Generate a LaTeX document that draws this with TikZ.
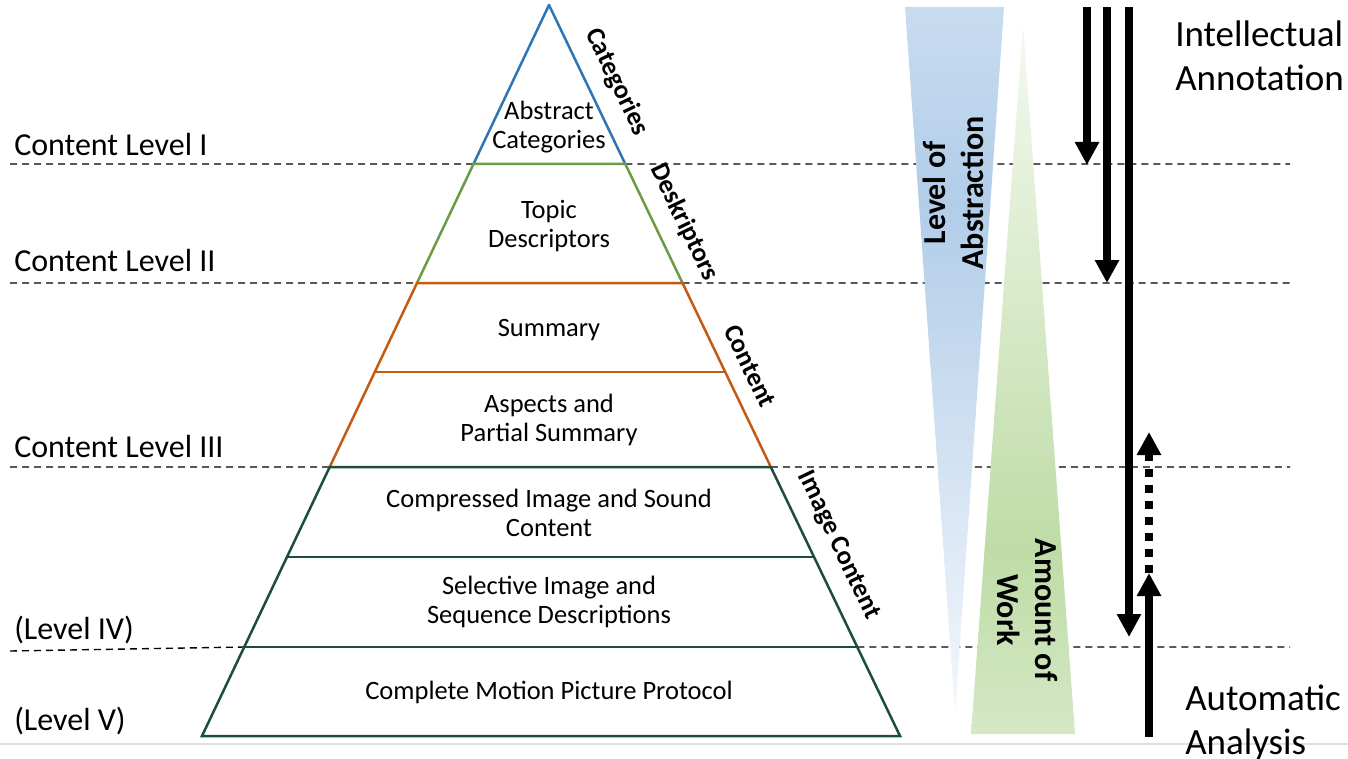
\documentclass[tikz,border=0pt]{standalone}
\usepackage{fontspec}
\setmainfont{Carlito}
\usepackage{xcolor}
\usepackage{tikz}
\usetikzlibrary{arrows.meta}
\usetikzlibrary{calc}
\usetikzlibrary{positioning}

\definecolor{catblue}{HTML}{2E75B6}
\definecolor{desgreen}{HTML}{6B9B43}
\definecolor{conorange}{HTML}{C55A11}
\definecolor{imggreen}{HTML}{1B4F3B}
\definecolor{abstop}{HTML}{C8DCF0}
\definecolor{absmid}{HTML}{B2CDE9}
\definecolor{absbot}{HTML}{F3F7FC}
\definecolor{worktop}{HTML}{F4F9F0}
\definecolor{workmid}{HTML}{BFDCA7}
\definecolor{workbot}{HTML}{D4E8C5}
\pgfdeclareverticalshading{absfade}{100bp}{color(0bp)=(absbot); color(25bp)=(absbot); color(61bp)=(absmid); color(75bp)=(abstop); color(100bp)=(abstop)}
\pgfdeclareverticalshading{workfade}{100bp}{color(0bp)=(workbot); color(25bp)=(workbot); color(38bp)=(workmid); color(75bp)=(worktop); color(100bp)=(worktop)}

\begin{document}
\begin{tikzpicture}[x=1pt,y=-1pt,line width=2.5pt]
 \tikzstyle{lvl}=[draw, line width=1.4pt, dash pattern=on 7pt off 5pt]
 \tikzstyle{txt}=[font=\fontsize{26.5}{29}\selectfont, align=center, inner sep=0pt]
 \tikzstyle{side}=[font=\bfseries\fontsize{26.5}{30}\selectfont, sloped, above, inner sep=15pt]
 \tikzstyle{lbl}=[font=\fontsize{32}{38}\selectfont, anchor=base west, inner sep=0pt]
 \tikzstyle{big}=[font=\fontsize{37}{44}\selectfont, align=left, anchor=north west, inner sep=0pt]
 \tikzstyle{vlbl}=[font=\bfseries\fontsize{32}{38}\selectfont, align=center, inner sep=0pt]
 \tikzstyle{fat}=[line width=7.5pt, -{Triangle[length=23pt,width=23pt]}]

 \useasboundingbox (0,0) rectangle (1348,759);

 % pyramid corners, top to bottom
 \coordinate (T) at (549,5);
 \coordinate (L1) at (473.5,164); \coordinate (R1) at (625.3,164);
 \coordinate (L2) at (417.0,283); \coordinate (R2) at (682.5,283);
 \coordinate (L3) at (374.8,372); \coordinate (R3) at (725.2,372);
 \coordinate (L4) at (329.7,467); \coordinate (R4) at (770.8,467);
 \coordinate (L5) at (287.0,557); \coordinate (R5) at (814.1,557);
 \coordinate (L6) at (244.2,647); \coordinate (R6) at (857.3,647);
 \coordinate (L7) at (202.0,736); \coordinate (R7) at (900.0,736);

 % ends of the level lines
 \coordinate (a1) at (10,164); \coordinate (b1) at (1290,164);
 \coordinate (a2) at (10,283); \coordinate (b2) at (1290,283);
 \coordinate (a4) at (10,467); \coordinate (b4) at (1290,467);
 \coordinate (a6) at (10,651); \coordinate (b6) at (1290,647);
 \path[lvl] (a1) -- (L1) (R1) -- (b1)
            (a2) -- (L2) (R2) -- (b2)
            (a4) -- (L4) (R4) -- (b4)
            (a6) -- (L6) (R6) -- (b6);

 \draw[line width=1.5pt, black!12] (0,744) -- (1348,744);

 % the two wedges
 \coordinate (B1) at (905,7); \coordinate (B2) at (1004,7); \coordinate (B3) at (955,713);
 \coordinate (G1) at (1023,25); \coordinate (G2) at (1075,734); \coordinate (G3) at (971,734);
 \shade[shading=absfade] (B1) -- (B2) -- (B3) -- cycle;
 \shade[shading=workfade] (G1) -- (G2) -- (G3) -- cycle;
 \node[vlbl, rotate=90] (abst) at (953,193) {Level of\\Abstraction};
 \node[vlbl, rotate=-90] (work) at (1027,610) {Amount of\\Work};

 % pyramid
 \draw[catblue, line join=round] (L1) -- (T) -- (R1);
 \draw[desgreen] (L2) -- (L1) -- (R1) -- (R2);
 \draw[conorange] (L4) -- (L2) -- (R2) -- (R4);
 \draw[conorange] (L3) -- (R3);
 \draw[imggreen] (L4) -- (L7) -- (R7) -- (R4) -- cycle;
 \draw[imggreen] (L5) -- (R5);
 \draw[imggreen] (L6) -- (R6);

 \node[txt] (abs) at (549,127) {Abstract\\Categories};
 \node[txt] (top) at (549,226) {Topic\\Descriptors};
 \node[txt] (sum) at (549,330) {Summary};
 \node[txt] (asp) at (549,420) {Aspects and\\Partial Summary};
 \node[txt] (cmp) at (549,513) {Compressed Image and Sound\\Content};
 \node[txt] (sel) at (549,602) {Selective Image and\\Sequence Descriptions};
 \node[txt] (mpp) at (549,692) {Complete Motion Picture Protocol};

 \path (T) -- (R1) node[side, pos=0.56] (cat) {Categories};
 \path (R1) -- (R2) node[side, pos=0.59] (des) {Deskriptors};
 \path (R2) -- (R4) node[side, pos=0.51] (con) {Content};
 \path (R4) -- (R7) node[side, pos=0.335] (img) {Image Content};

 % level names
 \node[lbl] (cl1) at (13,156) {Content Level I};
 \node[lbl] (cl2) at (13,272) {Content Level II};
 \node[lbl] (cl3) at (13,457) {Content Level III};
 \node[lbl] (cl4) at (13,639) {(Level IV)};
 \node[lbl] (cl5) at (13,730) {(Level V)};

 % arrows on the right
 \coordinate (d1s) at (1087,7); \coordinate (d1e) at (1087,165);
 \coordinate (d2s) at (1107,7); \coordinate (d2e) at (1107,283);
 \coordinate (d3s) at (1129,7); \coordinate (d3e) at (1129,637);
 \coordinate (u0) at (1149,737); \coordinate (u1) at (1149,573); \coordinate (u2) at (1149,432);
 \path[fat] (d1s) edge (d1e)
            (d2s) edge (d2e)
            (d3s) edge (d3e)
            (u0) edge (u1);
 \draw[fat, dash pattern=on 8pt off 8pt] (u1) -- (u2);

 \node[big] (ia) at (1174,20) {Intellectual\\Annotation};
 \node[big] (aa) at (1184,684) {Automatic\\Analysis};
\end{tikzpicture}
\end{document}
